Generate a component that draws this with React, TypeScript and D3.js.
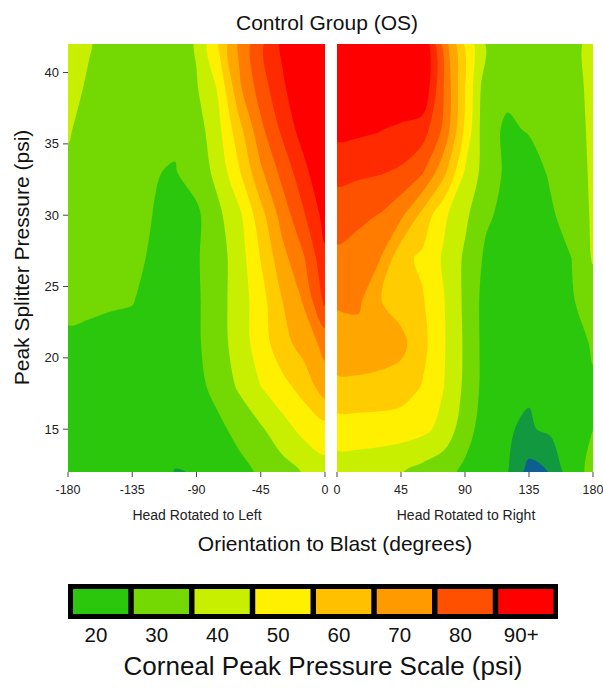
import React from "react";
import * as d3 from "d3";

// grid of estimated corneal peak pressure (psi), rows = splitter pressure, cols = orientation
const pressureRows = [42, 39, 36, 33, 30, 27, 24, 21, 18, 15, 12];
const leftAngles = [-180, -165, -150, -135, -120, -105, -90, -75, -60, -45, -30, -15, 0];
const rightAngles = [0, 15, 30, 45, 60, 75, 90, 105, 120, 135, 150, 165, 180];

const leftValues = [
  [38, 35.5, 32, 30, 29, 29, 36, 55, 77, 93, 107, 118, 127.5],
  [37.5, 34, 31, 29, 28, 28, 34.2, 46, 73.4, 90, 103.2, 114, 124.5],
  [36, 31, 29, 27.5, 26.5, 26.5, 30.4, 41.9, 61.7, 82.5, 97, 110, 123],
  [33, 30, 28, 26.5, 25.3, 24.5, 29.2, 37.9, 54, 73, 88, 101.5, 115.5],
  [31, 29.5, 28, 26.5, 24.9, 21, 23, 32.8, 42.8, 61.2, 79, 93.8, 108.8],
  [29, 28, 28, 27.5, 23.5, 19, 24, 30.7, 40.2, 55.5, 71.4, 84, 103],
  [27, 26.5, 26, 25.5, 21, 18, 23.5, 31.2, 39.8, 51, 64.8, 75.9, 97.5],
  [23.5, 23, 22, 21, 19, 18, 23.5, 30.6, 39.8, 50.1, 61.2, 69.2, 78],
  [22, 21.5, 21, 20.5, 19.5, 19, 22, 28.4, 36.5, 45, 51.9, 58.7, 70.5],
  [21, 20.5, 20, 19.5, 19, 18.5, 20, 22.6, 28.1, 33.7, 40.8, 48, 51],
  [20, 19.5, 19, 18.5, 18, 14.7, 15.3, 19, 21.9, 26.4, 31, 35.6, 41],
];

const rightValues = [
  [125, 125, 124, 121, 117, 81, 53.3, 34, 29, 28, 29, 32, 38],
  [122, 122, 121, 118, 115, 85, 55, 28, 26.5, 26, 27, 31, 38],
  [108, 107, 105.5, 102.5, 100, 83, 53, 27, 24, 25.5, 27, 30, 37.5],
  [97.6, 96.7, 95.7, 93.5, 86, 67.9, 43.9, 30.1, 23, 22, 25.8, 29, 37],
  [89.8, 87.5, 84.5, 77, 62, 47, 37, 26.5, 22, 21, 24, 28, 36.5],
  [82.8, 80, 75.5, 58, 53.1, 43.7, 33.4, 23, 20, 19.5, 21.5, 25, 36],
  [76.3, 77, 65.5, 60.5, 56, 45.5, 33, 21, 18.5, 18, 19.5, 24.2, 29.5],
  [70.2, 70.5, 70, 68, 58, 46, 33.5, 21, 18, 17.5, 18.5, 21, 26],
  [63.1, 63, 62, 60, 54.5, 45.2, 33, 21, 17, 16, 17, 20, 24],
  [49.8, 50, 50, 49.5, 47.5, 42, 29, 20, 15.5, 14, 16.8, 21, 25],
  [40, 39.5, 38, 35.5, 31.5, 28, 23, 19, 15.5, 1, 5.5, 22, 27],
];

const contourLevels = [5, 15, 25, 35, 45, 55, 65, 75, 85, 95, 105];
// first colour is below the lowest level
const contourColors = [
  "#0d5e91", "#12993f", "#2bc70d", "#74d802", "#c9ef00", "#fff000",
  "#ffcc00", "#ffa600", "#ff7c00", "#ff5200", "#ff2a00", "#ff0000",
];

const legendLabels = ["20", "30", "40", "50", "60", "70", "80", "90+"];
const legendColors = ["#2bc70d", "#74d802", "#c9ef00", "#fff000", "#ffc000", "#ff9a00", "#ff5000", "#ff0000"];

const yTicks = [15, 20, 25, 30, 35, 40];
const leftTicks = [-180, -135, -90, -45, 0];
const rightTicks = [0, 45, 90, 135, 180];

const font = "'Liberation Sans', Arial, Helvetica, sans-serif";

const top = 44;
const bottom = 472;
const yScale = d3.scaleLinear().domain([12, 42]).range([bottom, top]);
const xLeft = d3.scaleLinear().domain([-180, 0]).range([68, 325]);
const xRight = d3.scaleLinear().domain([0, 180]).range([337, 593]);

// smooth closed ring through the contour vertices
const ringLine = d3.line().curve(d3.curveCatmullRomClosed.alpha(0.5));

function Panel({ id, angles, values, xScale, ticks }) {
  const n = angles.length;
  const m = pressureRows.length;
  const contours = d3.contours().size([n, m]).thresholds(contourLevels)(values.flat());

  // grid coordinates -> data -> pixels
  const gx = d3.scaleLinear().domain([0.5, n - 0.5]).range([angles[0], angles[n - 1]]);
  const gy = d3.scaleLinear().domain([0.5, m - 0.5]).range([pressureRows[0], pressureRows[m - 1]]);

  const toPath = (c) =>
    c.coordinates
      .map((polygon) =>
        polygon
          .map((ring) => {
            const pts = ring.slice(0, -1).map(([x, y]) => [xScale(gx(x)), yScale(gy(y))]);
            return pts.length > 2 ? ringLine(pts) : "";
          })
          .join("")
      )
      .join("");

  const [x0, x1] = xScale.range();

  return (
    <g>
      <clipPath id={id}>
        <rect x={x0} y={top} width={x1 - x0} height={bottom - top} />
      </clipPath>
      <g clipPath={`url(#${id})`}>
        <rect x={x0} y={top} width={x1 - x0} height={bottom - top} fill={contourColors[0]} />
        {contours.map((c, i) => (
          <path key={i} d={toPath(c)} fill={contourColors[i + 1]} fillRule="evenodd" />
        ))}
      </g>
      {ticks.map((t) => (
        <g key={t}>
          <line x1={xScale(t)} x2={xScale(t)} y1={bottom} y2={bottom + 5} stroke="#444" strokeWidth={1} />
          <text x={xScale(t)} y={bottom + 22} textAnchor="middle" fontSize={12.5} fill="#222">
            {t}
          </text>
        </g>
      ))}
    </g>
  );
}

export default function App() {
  const legendX = d3.scaleBand().domain(legendLabels).range([73, 553.5]).paddingInner(0.09);

  return (
    <svg
      width={603}
      height={689}
      style={{ position: "absolute", left: 0, top: 0, background: "#fff" }}
      fontFamily={font}
    >
      <text x={327} y={30} textAnchor="middle" fontSize={21} fill="#111">
        Control Group (OS)
      </text>

      <Panel id="clip-left" angles={leftAngles} values={leftValues} xScale={xLeft} ticks={leftTicks} />
      <Panel id="clip-right" angles={rightAngles} values={rightValues} xScale={xRight} ticks={rightTicks} />

      {yTicks.map((t) => (
        <g key={t}>
          <line x1={63} x2={68} y1={yScale(t)} y2={yScale(t)} stroke="#444" strokeWidth={1} />
          <text x={59} y={yScale(t) + 4.5} textAnchor="end" fontSize={13} fill="#222">
            {t}
          </text>
        </g>
      ))}

      <text transform={`translate(29,257.5) rotate(-90)`} textAnchor="middle" fontSize={21} fill="#111">
        Peak Splitter Pressure (psi)
      </text>

      <text x={197} y={520} textAnchor="middle" fontSize={14} fill="#222">
        Head Rotated to Left
      </text>
      <text x={466} y={520} textAnchor="middle" fontSize={14} fill="#222">
        Head Rotated to Right
      </text>
      <text x={335} y={551} textAnchor="middle" fontSize={21} fill="#111">
        Orientation to Blast (degrees)
      </text>

      {/* legend */}
      <rect x={68} y={584} width={490} height={35} fill="#000" />
      {legendLabels.map((l, i) => (
        <g key={l}>
          <rect x={legendX(l)} y={589} width={legendX.bandwidth()} height={25} fill={legendColors[i]} />
          <text x={legendX(l) + 23} y={642} textAnchor="middle" fontSize={20.5} fill="#111">
            {l}
          </text>
        </g>
      ))}
      <text x={323} y={675} textAnchor="middle" fontSize={26} fill="#111">
        Corneal Peak Pressure Scale (psi)
      </text>
    </svg>
  );
}
